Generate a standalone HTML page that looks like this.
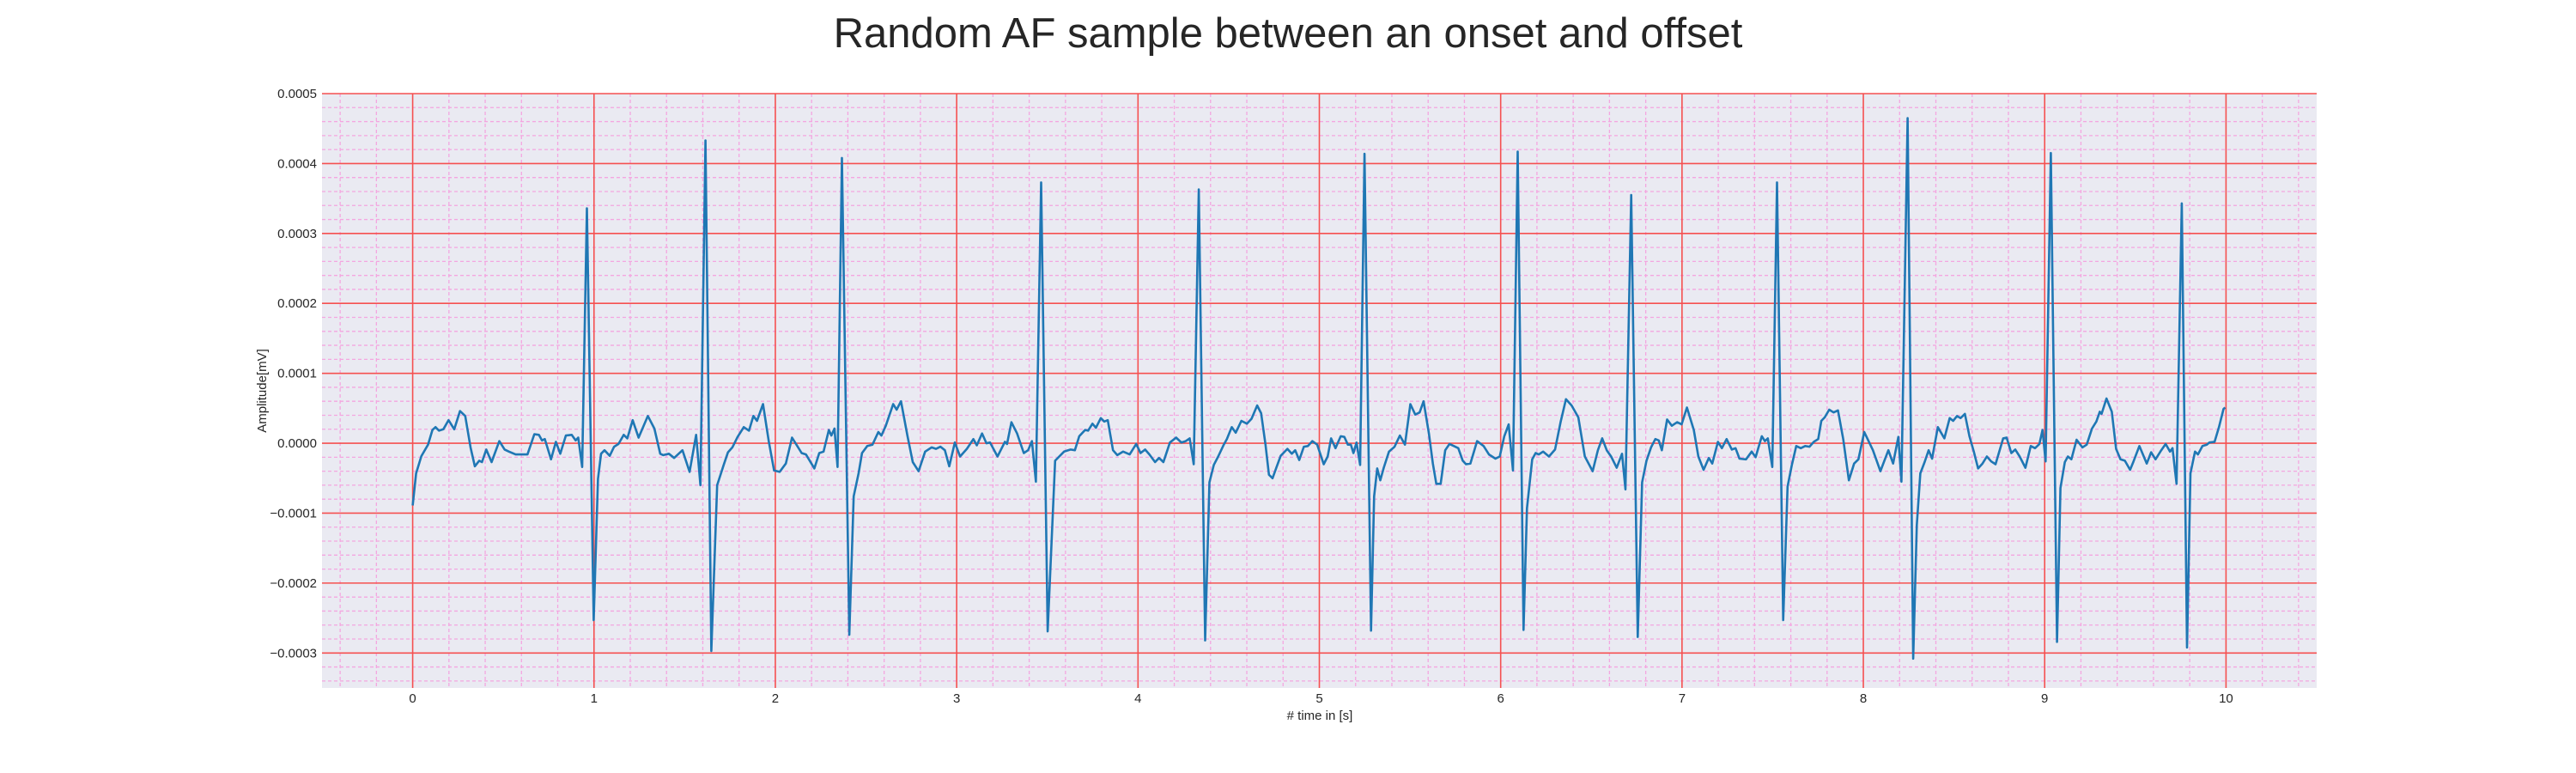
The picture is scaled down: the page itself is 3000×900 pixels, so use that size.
<!DOCTYPE html>
<html><head><meta charset="utf-8"><style>
html,body{margin:0;padding:0;background:#fff;width:3000px;height:900px;overflow:hidden}
svg text{font-family:"Liberation Sans",sans-serif;fill:#262626}
</style></head><body>
<svg id="chart" width="3000" height="900" xmlns="http://www.w3.org/2000/svg">
<text x="1500" y="55" font-size="49" text-anchor="middle">Random AF sample between an onset and offset</text>
<rect x="375" y="109" width="2323" height="692" fill="#eaeaf2"/>
<g id="grid"></g>
<g id="ticks"></g>
<g id="series"></g>
<text x="1537" y="838" font-size="15" text-anchor="middle"># time in [s]</text>
<text x="0" y="0" font-size="15" text-anchor="middle" transform="translate(310,455) rotate(-90)">Amplitude[mV]</text>
</svg>
<script>
const times = [0,0.019,0.048,0.085,0.109,0.126,0.145,0.169,0.198,0.229,0.261,0.29,0.319,0.343,0.367,0.382,0.406,0.435,0.478,0.507,0.531,0.568,0.633,0.671,0.696,0.713,0.729,0.763,0.79,0.814,0.845,0.877,0.899,0.913,0.935,0.961,0.998,1.022,1.039,1.058,1.087,1.111,1.135,1.164,1.184,1.213,1.246,1.297,1.333,1.365,1.382,1.413,1.442,1.488,1.527,1.563,1.587,1.615,1.647,1.679,1.715,1.739,1.763,1.792,1.826,1.855,1.879,1.899,1.932,1.964,1.993,2.024,2.058,2.092,2.121,2.145,2.169,2.215,2.242,2.266,2.295,2.309,2.326,2.343,2.367,2.408,2.432,2.459,2.478,2.507,2.536,2.568,2.585,2.609,2.65,2.669,2.693,2.729,2.758,2.79,2.826,2.862,2.886,2.911,2.935,2.959,2.99,3.019,3.056,3.092,3.111,3.14,3.164,3.184,3.225,3.266,3.278,3.302,3.333,3.37,3.394,3.415,3.437,3.466,3.502,3.543,3.592,3.628,3.652,3.676,3.708,3.725,3.749,3.768,3.795,3.814,3.833,3.862,3.886,3.918,3.954,3.99,4.014,4.039,4.063,4.094,4.116,4.14,4.176,4.21,4.239,4.263,4.285,4.307,4.335,4.37,4.394,4.418,4.442,4.473,4.49,4.517,4.539,4.57,4.601,4.626,4.657,4.679,4.703,4.722,4.742,4.763,4.787,4.824,4.848,4.867,4.889,4.915,4.937,4.961,4.988,5.024,5.046,5.065,5.089,5.118,5.138,5.157,5.174,5.188,5.205,5.225,5.249,5.285,5.302,5.319,5.336,5.355,5.384,5.415,5.444,5.472,5.502,5.529,5.553,5.575,5.604,5.626,5.645,5.669,5.694,5.718,5.742,5.766,5.791,5.809,5.833,5.87,5.906,5.935,5.971,5.995,6.02,6.044,6.068,6.094,6.126,6.145,6.174,6.193,6.21,6.234,6.266,6.3,6.331,6.36,6.391,6.428,6.464,6.507,6.536,6.56,6.585,6.609,6.64,6.669,6.688,6.72,6.756,6.78,6.804,6.829,6.853,6.872,6.889,6.918,6.944,6.973,6.998,7.027,7.065,7.09,7.119,7.148,7.167,7.198,7.22,7.246,7.275,7.295,7.317,7.353,7.384,7.406,7.44,7.457,7.473,7.498,7.524,7.558,7.582,7.606,7.63,7.655,7.679,7.703,7.727,7.751,7.768,7.787,7.812,7.836,7.86,7.889,7.92,7.949,7.973,8.005,8.053,8.094,8.138,8.164,8.193,8.21,8.244,8.275,8.295,8.314,8.338,8.36,8.379,8.411,8.447,8.476,8.495,8.517,8.536,8.56,8.585,8.609,8.633,8.657,8.681,8.705,8.729,8.771,8.79,8.816,8.838,8.862,8.894,8.923,8.947,8.971,8.988,9.005,9.034,9.068,9.087,9.111,9.128,9.147,9.176,9.208,9.232,9.261,9.285,9.304,9.314,9.341,9.37,9.394,9.418,9.442,9.471,9.49,9.522,9.563,9.587,9.611,9.643,9.667,9.691,9.705,9.727,9.756,9.785,9.804,9.829,9.845,9.87,9.894,9.908,9.937,9.961,9.986,9.995];
const amps = [-0.89,-0.43,-0.185,-0.02,0.19,0.23,0.18,0.2,0.33,0.2,0.46,0.39,-0.06,-0.33,-0.25,-0.27,-0.09,-0.27,0.03,-0.09,-0.12,-0.16,-0.16,0.13,0.12,0.04,0.06,-0.23,0.02,-0.15,0.11,0.12,0.04,0.08,-0.34,3.36,-2.53,-0.51,-0.15,-0.1,-0.18,-0.05,-0.01,0.12,0.07,0.33,0.08,0.39,0.21,-0.15,-0.17,-0.15,-0.21,-0.1,-0.41,0.12,-0.6,4.33,-2.97,-0.6,-0.31,-0.13,-0.06,0.09,0.23,0.18,0.39,0.32,0.56,0.02,-0.39,-0.41,-0.29,0.08,-0.04,-0.14,-0.16,-0.36,-0.14,-0.12,0.19,0.11,0.21,-0.34,4.08,-2.74,-0.76,-0.43,-0.14,-0.04,-0.02,0.16,0.11,0.25,0.56,0.48,0.6,0.1,-0.27,-0.4,-0.12,-0.06,-0.08,-0.05,-0.1,-0.33,0.01,-0.19,-0.08,0.06,-0.03,0.14,0,0.01,-0.19,0.02,-0.01,0.3,0.14,-0.14,-0.1,0.03,-0.55,3.73,-2.69,-0.25,-0.12,-0.09,-0.1,0.1,0.19,0.18,0.28,0.22,0.36,0.31,0.33,-0.1,-0.17,-0.12,-0.16,-0.01,-0.14,-0.09,-0.16,-0.27,-0.21,-0.27,0.01,0.08,0.01,0.03,0.07,-0.3,3.63,-2.82,-0.56,-0.31,-0.19,-0.02,0.06,0.23,0.15,0.32,0.28,0.35,0.54,0.43,-0.02,-0.45,-0.5,-0.35,-0.18,-0.08,-0.15,-0.1,-0.24,-0.05,-0.04,0.03,-0.02,-0.3,-0.19,0.07,-0.07,0.1,0.09,-0.02,-0.02,-0.14,0.01,-0.31,4.14,-2.68,-0.76,-0.36,-0.53,-0.35,-0.12,-0.05,0.11,-0.02,0.56,0.41,0.44,0.6,0.14,-0.29,-0.58,-0.58,-0.1,-0.01,-0.04,-0.07,-0.25,-0.3,-0.29,0.03,-0.04,-0.16,-0.22,-0.19,0.1,0.27,-0.39,4.17,-2.67,-0.93,-0.23,-0.14,-0.16,-0.12,-0.19,-0.09,0.31,0.63,0.54,0.37,-0.19,-0.4,-0.1,0.07,-0.1,-0.19,-0.35,-0.15,-0.66,3.55,-2.77,-0.56,-0.25,-0.06,0.06,0.04,-0.1,0.34,0.25,0.3,0.27,0.51,0.19,-0.19,-0.38,-0.21,-0.29,0.02,-0.07,0.06,-0.09,-0.07,-0.22,-0.23,-0.12,-0.2,0.1,0.03,0.07,-0.34,3.73,-2.53,-0.62,-0.31,-0.04,-0.07,-0.04,-0.05,0.02,0.06,0.32,0.37,0.48,0.44,0.47,0.06,-0.53,-0.29,-0.23,0.16,-0.1,-0.4,-0.1,-0.29,0.09,-0.55,4.65,-3.08,-1.17,-0.43,-0.27,-0.1,-0.22,0.23,0.07,0.36,0.32,0.39,0.36,0.42,0.1,-0.12,-0.36,-0.29,-0.19,-0.26,-0.3,0.07,0.08,-0.14,-0.09,-0.19,-0.35,-0.04,-0.07,-0.01,0.19,-0.26,4.15,-2.84,-0.64,-0.27,-0.19,-0.23,0.05,-0.06,-0.02,0.21,0.31,0.45,0.42,0.64,0.45,-0.08,-0.23,-0.25,-0.38,-0.26,-0.04,-0.29,-0.13,-0.23,-0.1,-0.01,-0.12,-0.07,-0.58,3.43,-2.92,-0.43,-0.12,-0.16,-0.04,-0.02,0.01,0.02,0.23,0.49,0.51];
const xTicks = [0,1,2,3,4,5,6,7,8,9,10];
const yTicks = [-0.0003,-0.0002,-0.0001,0,0.0001,0.0002,0.0003,0.0004,0.0005];
const yTickLabels = ["\u22120.0003","\u22120.0002","\u22120.0001","0.0000","0.0001","0.0002","0.0003","0.0004","0.0005"];
const AMP_UNIT = 1e-4;

const PL=375,PR=2698,PT=109,PB=801;
const XMIN=-0.5,XMAX=10.5,YMIN=-0.00035,YMAX=0.0005;
function xs(t){return PL+(t-XMIN)/(XMAX-XMIN)*(PR-PL);}
function ys(v){return PB-(v-YMIN)/(YMAX-YMIN)*(PB-PT);}
const NS="http://www.w3.org/2000/svg";
function mk(tag,attrs,parent){const e=document.createElementNS(NS,tag);for(const k in attrs)e.setAttribute(k,attrs[k]);parent.appendChild(e);return e;}
const grid=document.getElementById('grid'),ticks=document.getElementById('ticks'),series=document.getElementById('series');
// minor grid
for(let i=-2;i<=52;i++){const t=i*0.2;if(t<XMIN||t>XMAX||i%5===0)continue;
  const l=mk('line',{x1:xs(t),x2:xs(t),y1:PT,y2:PB,stroke:'#f4a6e0','stroke-width':1.3,'stroke-dasharray':'4,3'},grid);
  
  }
for(let i=-20;i<=30;i++){const v=i*0.00002;if(v<YMIN||v>YMAX||i%5===0)continue;
  const l=mk('line',{x1:PL,x2:PR,y1:ys(v),y2:ys(v),stroke:'#f4a6e0','stroke-width':1.3,'stroke-dasharray':'4,3'},grid);
  
  }
// major grid + labels
xTicks.forEach(t=>{
  const l=mk('line',{x1:xs(t),x2:xs(t),y1:PT,y2:PB,stroke:'#f55050','stroke-width':1.6},grid);
  
  
  const tx=mk('text',{x:xs(t),y:818,'font-size':15,'text-anchor':'middle'},ticks);tx.textContent=String(t);
  
  
});
yTicks.forEach((v,i)=>{
  const l=mk('line',{x1:PL,x2:PR,y1:ys(v),y2:ys(v),stroke:'#f55050','stroke-width':1.6},grid);
  
  
  const tx=mk('text',{x:369,y:ys(v)+5,'font-size':15,'text-anchor':'end'},ticks);tx.textContent=yTickLabels[i];
  
  
});
// series
let d='';
for(let i=0;i<times.length;i++){d+=(i?'L':'M')+xs(times[i]).toFixed(1)+','+ys(amps[i]*AMP_UNIT).toFixed(1);}
const p=mk('path',{d:d,fill:'none',stroke:'#1f77b4','stroke-width':2.6,'stroke-linejoin':'round'},series);


</script>
</body></html>
